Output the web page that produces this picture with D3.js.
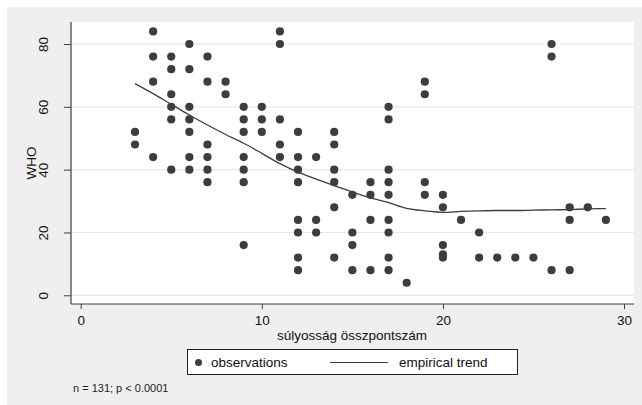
<!DOCTYPE html>
<html>
<head>
<meta charset="utf-8">
<script src="https://cdn.jsdelivr.net/npm/d3@7/dist/d3.min.js"></script>
<style>
  html, body { margin: 0; padding: 0; background: #ffffff; }
  svg { display: block; font-family: "Liberation Sans", Arial, sans-serif; }
</style>
</head>
<body>
<svg id="chart" width="642" height="405"></svg>
<script>
// Observations: severity total score (x) vs WHO score (y)
const obsX = [
  3, 3,
  4, 4, 4, 4,
  5, 5, 5, 5, 5, 5,
  6, 6, 6, 6, 6, 6, 6,
  7, 7, 7, 7, 7, 7,
  8, 8,
  9, 9, 9, 9, 9, 9, 9,
  10, 10, 10,
  11, 11, 11, 11, 11,
  12, 12, 12, 12, 12, 12, 12, 12,
  13, 13, 13,
  14, 14, 14, 14, 14, 14,
  15, 15, 15, 15,
  16, 16, 16, 16,
  17, 17, 17, 17, 17, 17, 17, 17, 17,
  18,
  19, 19, 19, 19,
  20, 20, 20, 20, 20,
  21,
  22, 22,
  23, 24, 25,
  26, 26, 26,
  27, 27, 27,
  28,
  29
];
const obsY = [
  52, 48,
  84, 76, 68, 44,
  76, 72, 64, 60, 56, 40,
  80, 72, 60, 56, 52, 44, 40,
  76, 68, 48, 44, 40, 36,
  68, 64,
  60, 56, 52, 44, 40, 36, 16,
  60, 56, 52,
  84, 80, 56, 48, 44,
  52, 44, 40, 36, 24, 20, 12, 8,
  44, 24, 20,
  52, 48, 40, 36, 28, 12,
  32, 20, 16, 8,
  36, 32, 24, 8,
  60, 56, 40, 36, 32, 24, 20, 12, 8,
  4,
  68, 64, 36, 32,
  32, 28, 16, 13, 12,
  24,
  20, 12,
  12, 12, 12,
  80, 76, 8,
  28, 24, 8,
  28,
  24
];

// Smoothed (lowess) trend
const trendX = [3, 4, 5, 6, 7, 8, 9, 10, 11, 12, 13, 14, 15, 16, 17, 18, 19, 20, 21, 22, 23, 24, 25, 26, 27, 28, 29];
const trendY = [67.4, 64.2, 60.8, 57.4, 54.2, 51.2, 48.4, 45.2, 41.9, 39.2, 37.0, 34.9, 32.9, 31.0, 29.5, 27.7, 26.9, 26.4, 26.7, 26.9, 27.0, 27.0, 27.1, 27.2, 27.3, 27.5, 27.6];

const xTicks = [0, 10, 20, 30];
const yTicks = [0, 20, 40, 60, 80];

const xTitle = "súlyosság összpontszám";
const yTitle = "WHO";
const legendLabels = ["observations", "empirical trend"];
const note = "n = 131; p < 0.0001";

const svg = d3.select("#chart");
const ink = "#3d3d3d";

// outer panel
svg.append("rect").attr("x", 7).attr("y", 7).attr("width", 635).attr("height", 398).attr("fill", "#efefef");

// plot region
const plot = { left: 71, right: 634, top: 22, bottom: 304 };
svg.append("rect")
  .attr("x", plot.left).attr("y", plot.top)
  .attr("width", plot.right - plot.left).attr("height", plot.bottom - plot.top)
  .attr("fill", "#ffffff");

const x = d3.scaleLinear().domain([0, 30]).range([80.7, 624]);
const y = d3.scaleLinear().domain([0, 80]).range([295.3, 44]);

// gridlines
svg.append("g").selectAll("line").data(yTicks).join("line")
  .attr("x1", plot.left).attr("x2", plot.right)
  .attr("y1", d => y(d)).attr("y2", d => y(d))
  .attr("stroke", "#e8e8e8").attr("stroke-width", 1.2);

// x axis
const gx = svg.append("g").attr("transform", `translate(0,${plot.bottom})`)
  .call(d3.axisBottom(x).tickValues(xTicks).tickFormat(d3.format("d")).tickSize(5).tickPadding(6).tickSizeOuter(0));
gx.select(".domain").remove();
gx.selectAll(".tick line").attr("stroke", ink);
gx.selectAll(".tick text").attr("font-size", "13.5px").attr("fill", "#111").attr("font-family", "Liberation Sans, Arial, sans-serif");
svg.append("line").attr("x1", plot.left).attr("x2", plot.right)
  .attr("y1", plot.bottom).attr("y2", plot.bottom).attr("stroke", ink).attr("stroke-width", 1.2);

// y axis
const gy = svg.append("g").attr("transform", `translate(${plot.left},0)`)
  .call(d3.axisLeft(y).tickValues(yTicks).tickFormat(d3.format("d")).tickSize(7).tickSizeOuter(0));
gy.select(".domain").remove();
gy.selectAll(".tick line").attr("stroke", ink);
gy.selectAll(".tick text")
  .attr("x", null).attr("dy", null)
  .attr("text-anchor", "middle")
  .attr("transform", "translate(-23,0) rotate(-90)")
  .attr("font-size", "13.5px").attr("fill", "#111").attr("font-family", "Liberation Sans, Arial, sans-serif");
svg.append("line").attr("x1", plot.left).attr("x2", plot.left)
  .attr("y1", plot.top).attr("y2", plot.bottom).attr("stroke", ink).attr("stroke-width", 1.2);

// axis titles
svg.append("text").attr("x", 352).attr("y", 340).attr("text-anchor", "middle")
  .attr("font-size", "13.5px").attr("fill", "#111").text(xTitle);
svg.append("text").attr("transform", `translate(36,${(plot.top + plot.bottom) / 2}) rotate(-90)`)
  .attr("text-anchor", "middle").attr("font-size", "13.5px").attr("fill", "#111").text(yTitle);

// observations
const obs = obsX.map((d, i) => ({ x: d, y: obsY[i] }));
svg.append("g").selectAll("circle").data(obs).join("circle")
  .attr("cx", d => x(d.x)).attr("cy", d => y(d.y)).attr("r", 4.1)
  .attr("fill", ink);

// trend line
const trend = trendX.map((d, i) => ({ x: d, y: trendY[i] }));
svg.append("path").datum(trend)
  .attr("fill", "none").attr("stroke", ink).attr("stroke-width", 1.3)
  .attr("d", d3.line().x(d => x(d.x)).y(d => y(d.y)).curve(d3.curveMonotoneX));

// legend
const lg = svg.append("g");
lg.append("rect").attr("x", 187.5).attr("y", 349.5).attr("width", 330).attr("height", 25)
  .attr("fill", "#ffffff").attr("stroke", "#222").attr("stroke-width", 1);
lg.append("circle").attr("cx", 198.5).attr("cy", 362.5).attr("r", 3.5).attr("fill", ink);
lg.append("text").attr("x", 211).attr("y", 367).attr("font-size", "13.5px").attr("fill", "#111").text(legendLabels[0]);
lg.append("line").attr("x1", 330).attr("x2", 388).attr("y1", 362.5).attr("y2", 362.5)
  .attr("stroke", ink).attr("stroke-width", 1.2);
lg.append("text").attr("x", 399).attr("y", 367).attr("font-size", "13.5px").attr("fill", "#111").text(legendLabels[1]);

// note
svg.append("text").attr("x", 73).attr("y", 391.5).attr("font-size", "11px").attr("fill", "#222").text(note);
</script>
</body>
</html>
